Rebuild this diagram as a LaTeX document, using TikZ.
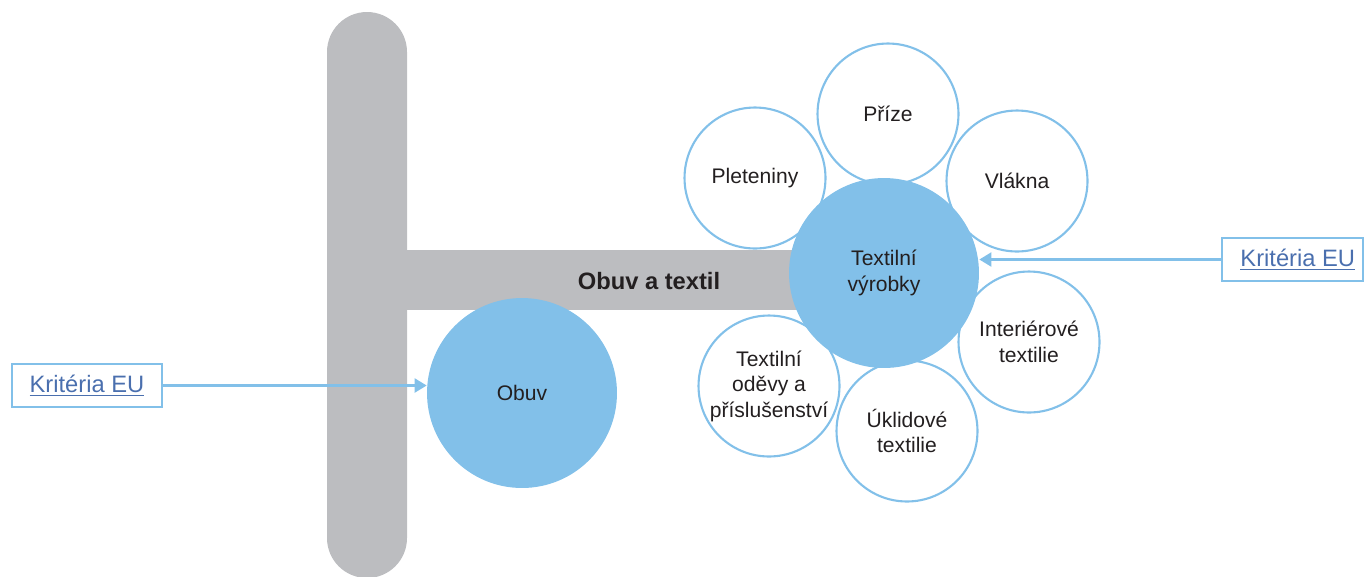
\documentclass[tikz,border=0pt]{standalone}
\usepackage{fontspec}
\setmainfont{Liberation Sans}
\usetikzlibrary{arrows.meta}

\definecolor{barGray}{HTML}{BCBDC0}
\definecolor{skyBlue}{HTML}{82C0E9}
\definecolor{linkBlue}{HTML}{4A6FAE}
\definecolor{inkDark}{HTML}{231F20}

\tikzset{
	bigcirc/.style   = {shape=circle, fill=skyBlue, minimum size=3.8cm, inner sep=0pt, align=center, text=inkDark, font=\fontsize{12}{14.5}\selectfont},
	smallcirc/.style = {shape=circle, draw=skyBlue, line width=1.2pt, minimum size=2.82cm, inner sep=0pt, align=center, text=inkDark, font=\fontsize{12}{14.5}\selectfont},
	critbox/.style   = {draw=skyBlue, line width=1.5pt, minimum height=0.86cm, inner sep=0pt, text=linkBlue, font=\fontsize{13.5}{16}\selectfont},
	link/.style      = {color=skyBlue, line width=1.2pt, -{Triangle[length=2.4mm, width=2.8mm]}}
}

\begin{document}
\begin{tikzpicture}[x=0.02cm, y=-0.02cm]
	\useasboundingbox (0,0) rectangle (1365,576);

	% stem and branch
	\fill[barGray, rounded corners=0.8cm] (327,12) rectangle (407,578);
	\fill[barGray] (400,250) rectangle (820,310);
	\node[font=\bfseries\fontsize{13.5}{16}\selectfont, text=inkDark] (branch) at (649,281) {Obuv a textil};

	% satellites
	\node[smallcirc] (prize) at (888,114)  {Příze};
	\node[smallcirc] (vlak)  at (1017,181) {Vlákna};
	\node[smallcirc] (plet)  at (755,178)  {Pleteniny};
	\node[smallcirc] (inter) at (1029,342) {Interiérové\\textilie};
	\node[smallcirc] (ukl)   at (907,431)  {Úklidové\\textilie};
	\node[smallcirc] (odev)  at (769,386)  {Textilní\\oděvy a\\příslušenství};

	% main circles
	\node[bigcirc] (obuv) at (522,393) {Obuv};
	\node[bigcirc] (tv)   at (884,273) {Textilní\\výrobky};

	% criteria boxes
	\node[critbox, minimum width=3cm]    (kritL) at (87,385.5)     {\underline{Kritéria EU}};
	\node[critbox, minimum width=2.82cm] (kritR) at (1292.5,259.5) {\hspace{6pt}\underline{Kritéria EU}};

	\draw [link] (kritL.east) -- (kritL.east -| obuv.west);
	\draw [link] (kritR.west) -- (kritR.west -| tv.east);
\end{tikzpicture}
\end{document}
